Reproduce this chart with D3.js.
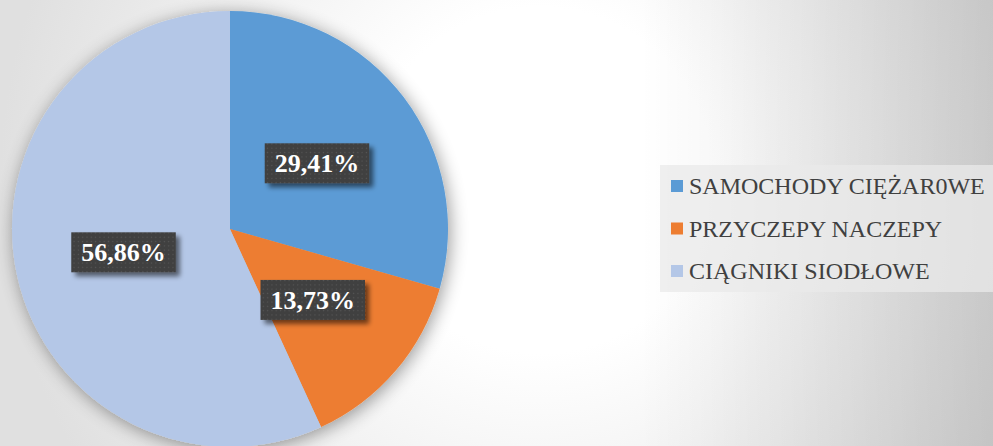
<!DOCTYPE html>
<html>
<head>
<meta charset="utf-8">
<script src="https://cdn.jsdelivr.net/npm/d3@7"></script>
<style>
  body { margin: 0; padding: 0; overflow: hidden; }
  svg { display: block; }
</style>
</head>
<body>
<div id="chart"></div>
<script>
// chart data
let categories = ["SAMOCHODY CIĘŻAR0WE", "PRZYCZEPY NACZEPY", "CIĄGNIKI SIODŁOWE"];
let shares = [29.41, 13.73, 56.86];
let labels = ["29,41%", "13,73%", "56,86%"];
let colors = ["#5B9BD5", "#ED7D31", "#B4C7E7"];

let svgWidth = 993;
let svgHeight = 446;

let pieCenter = { x: 230, y: 229 };
let radius = 218;

let svg = d3.select("#chart")
    .append("svg")
    .attr("width", svgWidth)
    .attr("height", svgHeight);

let defs = svg.append("defs");

// background gradients
let bgRadial = defs.append("radialGradient")
    .attr("id", "bgRadial")
    .attr("gradientUnits", "userSpaceOnUse")
    .attr("cx", 540).attr("cy", 180).attr("r", 540);
bgRadial.append("stop").attr("offset", "0").attr("stop-color", "#ffffff");
bgRadial.append("stop").attr("offset", "0.32").attr("stop-color", "#ffffff");
bgRadial.append("stop").attr("offset", "1").attr("stop-color", "#e0e0e0");

let bgRight = defs.append("linearGradient")
    .attr("id", "bgRight")
    .attr("gradientUnits", "userSpaceOnUse")
    .attr("x1", 640).attr("y1", 0).attr("x2", 993).attr("y2", 0);
bgRight.append("stop").attr("offset", "0").attr("stop-color", "#000").attr("stop-opacity", 0);
bgRight.append("stop").attr("offset", "1").attr("stop-color", "#000").attr("stop-opacity", 0.13);

// shadows
let pieShadow = defs.append("filter")
    .attr("id", "pieShadow")
    .attr("x", "-30%").attr("y", "-30%").attr("width", "160%").attr("height", "160%");
pieShadow.append("feGaussianBlur").attr("in", "SourceAlpha").attr("stdDeviation", 9).attr("result", "blur");
pieShadow.append("feOffset").attr("in", "blur").attr("dx", 2).attr("dy", 3).attr("result", "off");
pieShadow.append("feComponentTransfer").attr("in", "off").attr("result", "soft")
    .append("feFuncA").attr("type", "linear").attr("slope", 0.4);
let pm = pieShadow.append("feMerge");
pm.append("feMergeNode").attr("in", "soft");
pm.append("feMergeNode").attr("in", "SourceGraphic");

let boxShadow = defs.append("filter")
    .attr("id", "boxShadow")
    .attr("x", "-20%").attr("y", "-30%").attr("width", "150%").attr("height", "180%");
boxShadow.append("feGaussianBlur").attr("in", "SourceAlpha").attr("stdDeviation", 2.5).attr("result", "blur");
boxShadow.append("feOffset").attr("in", "blur").attr("dx", 4).attr("dy", 4).attr("result", "off");
boxShadow.append("feComponentTransfer").attr("in", "off").attr("result", "soft")
    .append("feFuncA").attr("type", "linear").attr("slope", 0.55);
let bm = boxShadow.append("feMerge");
bm.append("feMergeNode").attr("in", "soft");
bm.append("feMergeNode").attr("in", "SourceGraphic");

// dotted fill for the label boxes
let dots = defs.append("pattern")
    .attr("id", "dots")
    .attr("patternUnits", "userSpaceOnUse")
    .attr("width", 4.3).attr("height", 4.3);
dots.append("rect").attr("width", 4.3).attr("height", 4.3).attr("fill", "#3f3f3f");
dots.append("rect").attr("x", 1.5).attr("y", 1.5).attr("width", 1.3).attr("height", 1.3).attr("fill", "#565656");

svg.append("rect").attr("width", svgWidth).attr("height", svgHeight).attr("fill", "url(#bgRadial)");
svg.append("rect").attr("width", svgWidth).attr("height", svgHeight).attr("fill", "url(#bgRight)");

// pie
let pie = d3.pie().sort(null).value(d => d.value);
let pieData = pie(shares.map((v, i) => ({ value: v, label: labels[i], color: colors[i] })));

let arc = d3.arc().innerRadius(0).outerRadius(radius);

let chartGroup = svg.append("g")
    .attr("transform", `translate(${pieCenter.x}, ${pieCenter.y})`);

chartGroup.append("g")
    .attr("filter", "url(#pieShadow)")
    .selectAll("path")
    .data(pieData)
    .enter()
    .append("path")
    .attr("d", arc)
    .attr("fill", d => d.data.color);

// data labels
let labelGroup = chartGroup.selectAll(".dataLabel")
    .data(pieData)
    .enter()
    .append("g")
    .attr("class", "dataLabel")
    .attr("transform", d => `translate(${arc.centroid(d)})`);

let boxes = labelGroup.append("rect")
    .attr("fill", "url(#dots)")
    .attr("filter", "url(#boxShadow)");

let labelText = labelGroup.append("text")
    .text(d => d.data.label)
    .attr("text-anchor", "middle")
    .attr("dy", "0.35em")
    .attr("font-family", "'Liberation Serif', 'Times New Roman', serif")
    .attr("font-weight", "bold")
    .attr("font-size", "26px")
    .attr("fill", "#ffffff");

labelText.each(function(d, i) {
    let w = this.getComputedTextLength();
    d3.select(boxes.nodes()[i])
        .attr("x", -w / 2 - 10)
        .attr("y", -20)
        .attr("width", w + 20)
        .attr("height", 40);
});

// legend
let legend = svg.append("g").attr("transform", "translate(660, 165)");

legend.append("rect")
    .attr("width", 340)
    .attr("height", 127)
    .attr("fill", "#eaeaea")
    .attr("opacity", 0.75);

let legendItems = legend.selectAll(".legendItem")
    .data(categories)
    .enter()
    .append("g")
    .attr("class", "legendItem")
    .attr("transform", (d, i) => `translate(11, ${21 + i * 42.5})`);

legendItems.append("rect")
    .attr("x", 0)
    .attr("y", -6)
    .attr("width", 12)
    .attr("height", 12)
    .attr("fill", (d, i) => colors[i]);

legendItems.append("text")
    .text(d => d)
    .attr("x", 18)
    .attr("y", 8)
    .attr("font-family", "'Liberation Serif', 'Times New Roman', serif")
    .attr("font-size", "24px")
    .attr("fill", "#404040");
</script>
</body>
</html>
